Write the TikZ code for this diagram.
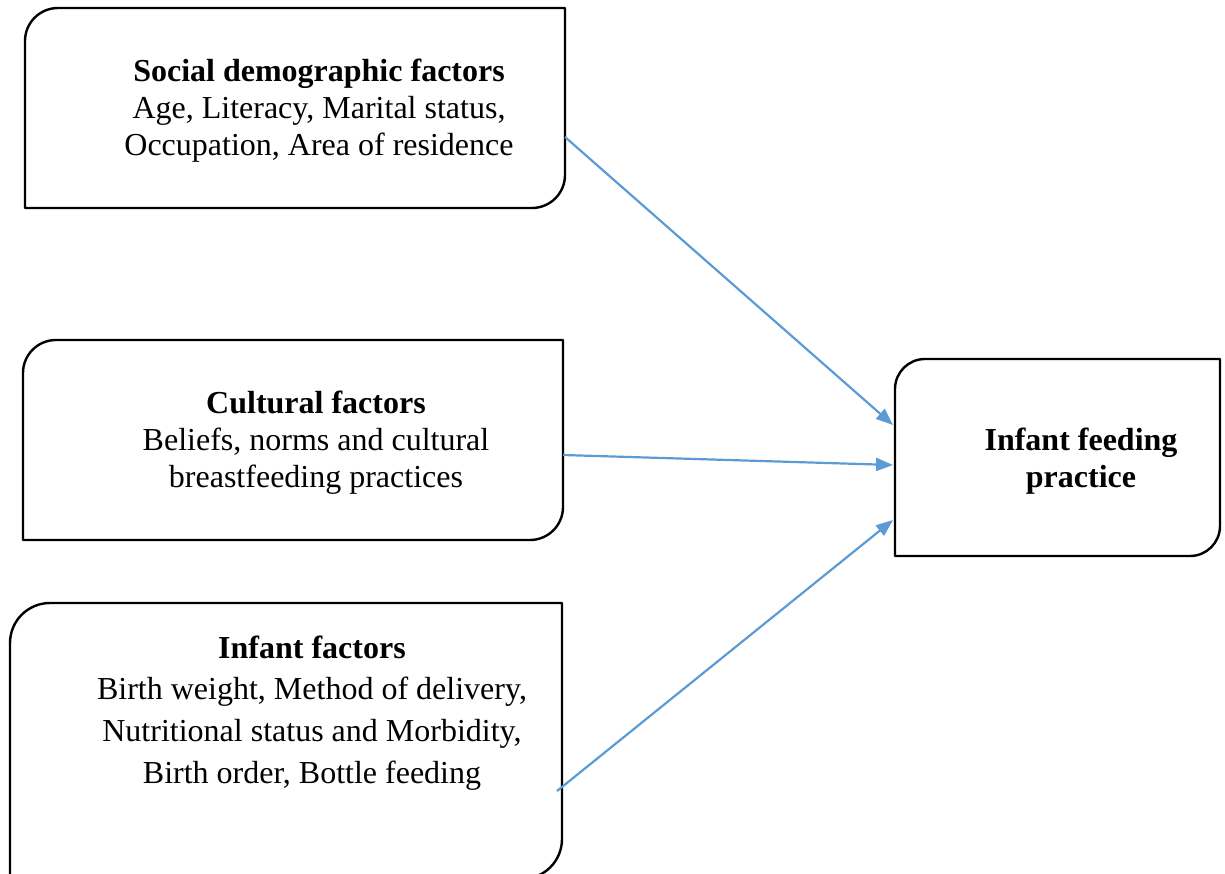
\documentclass[tikz,border=0pt]{standalone}
\usepackage{fontspec}
\setmainfont{Liberation Serif}
\usetikzlibrary{arrows.meta}
\definecolor{arrowblue}{RGB}{91,155,213}
\tikzset{
  boxnode/.style={inner sep=0pt, outer sep=0pt, draw=none},
  boxline/.style={draw=black, line width=2.4pt, line join=round},
  boxtext/.style={inner sep=0pt, align=center, font=\fontsize{32}{37}\selectfont},
  infl/.style={draw=arrowblue, line width=2.2pt, -{Triangle[length=17pt,width=13pt]}}
}
\begin{document}
\begin{tikzpicture}[x=1pt,y=1pt]
\useasboundingbox (0,0) rectangle (1225,873);
% box frames (invisible nodes, outlines drawn from their anchors)
\node[boxnode, minimum width=540pt, minimum height=200pt] (b1) at (295,765) {};
\node[boxnode, minimum width=540pt, minimum height=200pt] (b2) at (293,433) {};
\node[boxnode, minimum width=552pt, minimum height=276pt] (b3) at (286,132) {};
\node[boxnode, minimum width=325pt, minimum height=197pt] (b4) at (1057.5,415.5) {};

\draw[boxline] (b1.south west) -- ([yshift=-33pt]b1.north west) arc[start angle=180,end angle=90,radius=33pt] -- (b1.north east) -- ([yshift=33pt]b1.south east) arc[start angle=0,end angle=-90,radius=33pt] -- cycle;
\draw[boxline] (b2.south west) -- ([yshift=-33pt]b2.north west) arc[start angle=180,end angle=90,radius=33pt] -- (b2.north east) -- ([yshift=33pt]b2.south east) arc[start angle=0,end angle=-90,radius=33pt] -- cycle;
\draw[boxline] (b3.south west) -- ([yshift=-40pt]b3.north west) arc[start angle=180,end angle=90,radius=40pt] -- (b3.north east) -- ([yshift=40pt]b3.south east) arc[start angle=0,end angle=-90,radius=40pt] -- cycle;
\draw[boxline] (b4.south west) -- ([yshift=-30pt]b4.north west) arc[start angle=180,end angle=90,radius=30pt] -- (b4.north east) -- ([yshift=30pt]b4.south east) arc[start angle=0,end angle=-90,radius=30pt] -- cycle;

% texts
\node[boxtext] (t1) at (319,762) {\textbf{Social demographic factors}\\Age, Literacy, Marital status,\\Occupation, Area of residence};
\node[boxtext] (t2) at (316,430.5) {\textbf{Cultural factors}\\Beliefs, norms and cultural\\breastfeeding practices};
\node[boxtext, font=\fontsize{32}{41.7}\selectfont] (t3) at (312,160) {\textbf{Infant factors}\\Birth weight, Method of delivery,\\Nutritional status and Morbidity,\\Birth order, Bottle feeding};
\node[boxtext] (t4) at (1081,412) {\textbf{Infant feeding}\\\textbf{practice}};

% connectors
\draw[infl] ([yshift=-29pt]b1.east) -- ([xshift=-2pt,yshift=32.5pt]b4.west);
\draw[infl] ([yshift=-15pt]b2.east) -- ([xshift=-2pt,yshift=-7.5pt]b4.west);
\draw[infl] ([xshift=-5pt,yshift=-50pt]b3.east) -- ([xshift=-2pt,yshift=-62.5pt]b4.west);
\end{tikzpicture}
\end{document}
